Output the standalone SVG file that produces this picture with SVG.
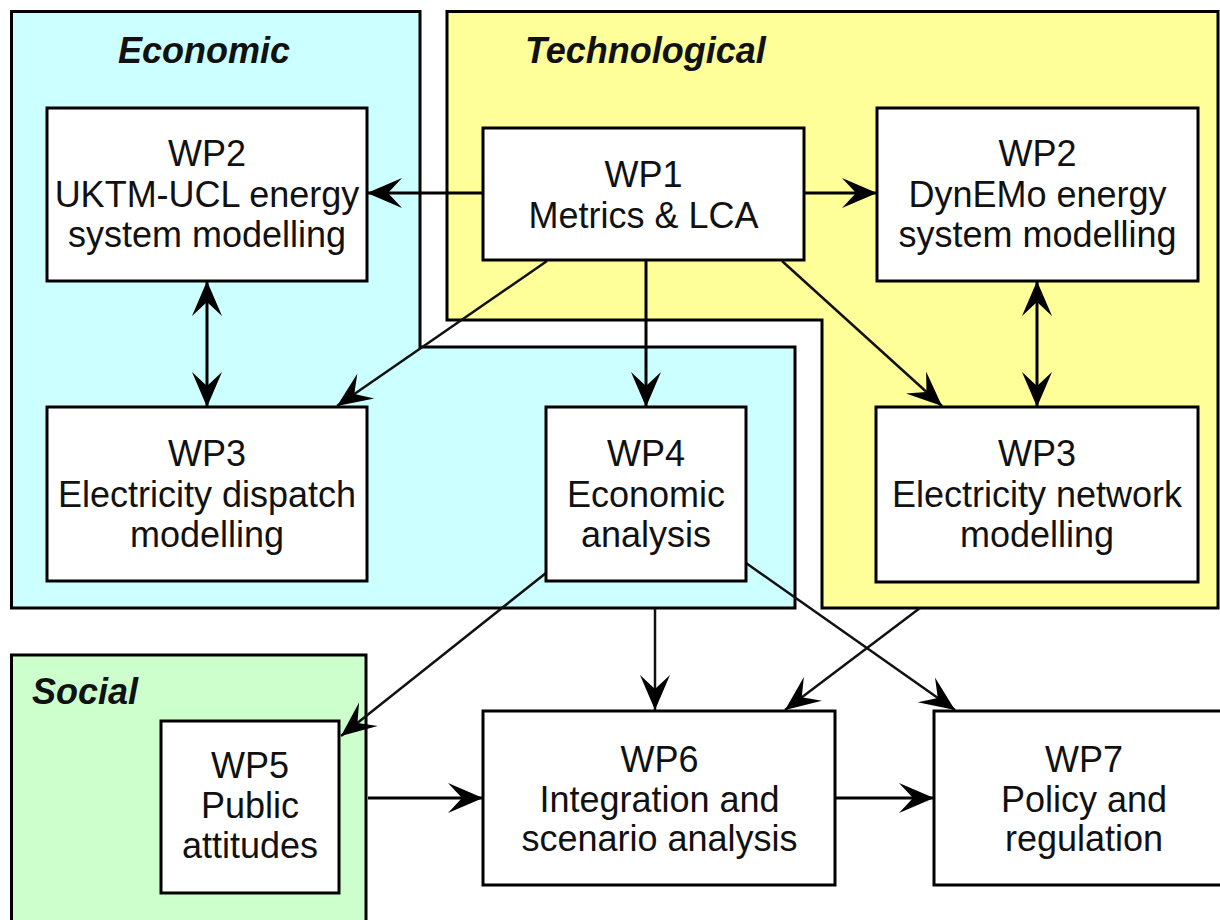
<svg xmlns="http://www.w3.org/2000/svg" width="1220" height="920" viewBox="0 0 1220 920">
<style>
.region{stroke:#000;stroke-width:3}
.eco{fill:#CCFFFF}
.tech{fill:#FFFF99}
.soc{fill:#CCFFCC}
.rlabel{font-family:"Liberation Sans",Arial,sans-serif;font-size:36px;font-weight:bold;font-style:italic;fill:#111}
.box{fill:#fff;stroke:#000;stroke-width:3}
.t{font-family:"Liberation Sans",Arial,sans-serif;font-size:36px;fill:#111;text-anchor:middle}
.c{fill:none;stroke:#000;stroke-width:3}
.d{fill:none;stroke:#111;stroke-width:2.5}
</style>
<defs>
<marker id="ah" viewBox="-36 -16 38 32" refX="0" refY="0" markerWidth="38" markerHeight="32" markerUnits="userSpaceOnUse" orient="auto-start-reverse">
<path d="M0,0 L-35,-15 L-21,0 L-35,15 Z" fill="#000"/>
</marker>
</defs>
<rect width="1220" height="920" fill="#fff"/>
<g id="regions">
<path id="region-economic" class="region eco" d="M11.5,11.5 H420 V347 H795 V608 H11.5 Z"/>
<path id="region-technological" class="region tech" d="M447,11.5 H1218 V608 H822 V320 H447 Z"/>
<path id="region-social" class="region soc" d="M11.5,655 H366 V940 H11.5 Z"/>
<text class="rlabel" x="118" y="63">Economic</text>
<text class="rlabel" x="525" y="63">Technological</text>
<text class="rlabel" x="32" y="704">Social</text>
</g>
<g id="connectors">
<line class="c" x1="483" y1="193" x2="367" y2="193" marker-end="url(#ah)"/>
<line class="c" x1="804" y1="193" x2="877" y2="193" marker-end="url(#ah)"/>
<line class="d" x1="547" y1="261" x2="337" y2="406" marker-end="url(#ah)"/>
<line class="c" x1="646" y1="260" x2="646" y2="407" marker-end="url(#ah)"/>
<line class="d" x1="782" y1="261" x2="942" y2="406" marker-end="url(#ah)"/>
<line class="c" x1="207" y1="281" x2="207" y2="407" marker-start="url(#ah)" marker-end="url(#ah)"/>
<line class="c" x1="1037" y1="281" x2="1037" y2="407" marker-start="url(#ah)" marker-end="url(#ah)"/>
<line class="d" x1="546" y1="573" x2="341" y2="736" marker-end="url(#ah)"/>
<line class="d" x1="655" y1="608" x2="655" y2="710" marker-end="url(#ah)"/>
<line class="d" x1="746" y1="563" x2="955" y2="710" marker-end="url(#ah)"/>
<line class="d" x1="920" y1="608" x2="785" y2="710" marker-end="url(#ah)"/>
<line class="c" x1="368" y1="798" x2="483" y2="798" marker-end="url(#ah)"/>
<line class="c" x1="836" y1="798" x2="934" y2="798" marker-end="url(#ah)"/>
</g>
<g id="wp2-uktm">
<rect class="box" x="47" y="108" width="320" height="173"/>
<text class="t" x="207" y="166">WP2</text>
<text class="t" x="207" y="207">UKTM-UCL energy</text>
<text class="t" x="207" y="247">system modelling</text>
</g>
<g id="wp1">
<rect class="box" x="483" y="128" width="321" height="132"/>
<text class="t" x="643.5" y="187">WP1</text>
<text class="t" x="643.5" y="228">Metrics &amp; LCA</text>
</g>
<g id="wp2-dynemo">
<rect class="box" x="877" y="108" width="321" height="173"/>
<text class="t" x="1037.5" y="166">WP2</text>
<text class="t" x="1037.5" y="207">DynEMo energy</text>
<text class="t" x="1037.5" y="247">system modelling</text>
</g>
<g id="wp3-dispatch">
<rect class="box" x="47" y="407" width="320" height="174"/>
<text class="t" x="207" y="466">WP3</text>
<text class="t" x="207" y="507">Electricity dispatch</text>
<text class="t" x="207" y="547">modelling</text>
</g>
<g id="wp4">
<rect class="box" x="546" y="407" width="200" height="174"/>
<text class="t" x="646" y="466">WP4</text>
<text class="t" x="646" y="507">Economic</text>
<text class="t" x="646" y="547">analysis</text>
</g>
<g id="wp3-network">
<rect class="box" x="876" y="407" width="322" height="175"/>
<text class="t" x="1037" y="466">WP3</text>
<text class="t" x="1037" y="507">Electricity network</text>
<text class="t" x="1037" y="547">modelling</text>
</g>
<g id="wp5">
<rect class="box" x="161" y="721" width="178" height="172"/>
<text class="t" x="250" y="778">WP5</text>
<text class="t" x="250" y="818">Public</text>
<text class="t" x="250" y="858">attitudes</text>
</g>
<g id="wp6">
<rect class="box" x="483" y="711" width="352" height="174"/>
<text class="t" x="659.5" y="772">WP6</text>
<text class="t" x="659.5" y="812">Integration and</text>
<text class="t" x="659.5" y="851">scenario analysis</text>
</g>
<g id="wp7">
<rect class="box" x="934" y="711" width="300" height="174"/>
<text class="t" x="1084" y="772">WP7</text>
<text class="t" x="1084" y="812">Policy and</text>
<text class="t" x="1084" y="851">regulation</text>
</g>
</svg>
